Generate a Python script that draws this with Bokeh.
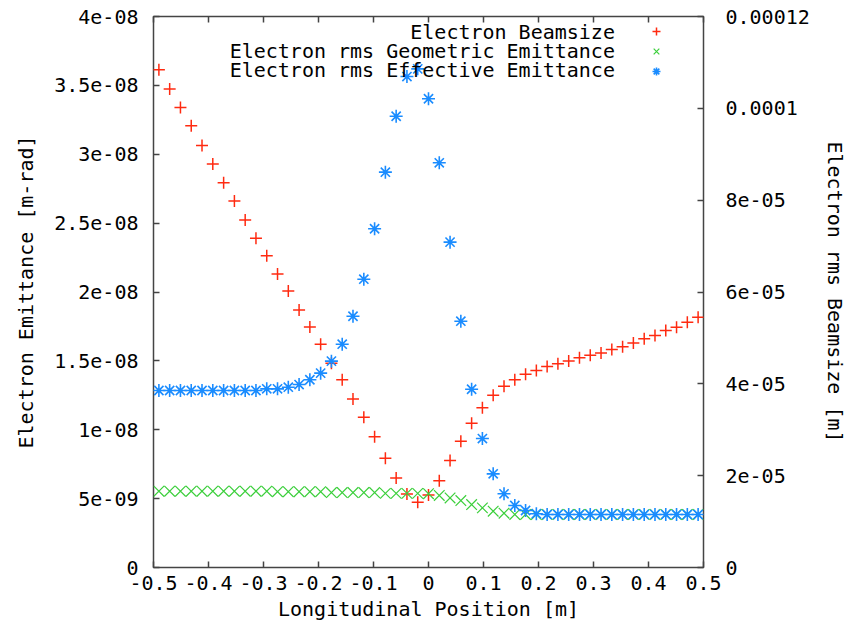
import math
from bokeh.plotting import figure
from bokeh.models import (Range1d, LinearAxis, FixedTicker, CustomJSTickFormatter,
                          Legend, LegendItem, Label)
from bokeh.embed import file_html
from bokeh.resources import INLINE

# ---------------- data ----------------
position = [-0.4902, -0.4706, -0.4510, -0.4314, -0.4118, -0.3922, -0.3725, -0.3529,
            -0.3333, -0.3137, -0.2941, -0.2745, -0.2549, -0.2353, -0.2157, -0.1961,
            -0.1765, -0.1569, -0.1373, -0.1176, -0.0980, -0.0784, -0.0588, -0.0392,
            -0.0196, 0.0, 0.0196, 0.0392, 0.0588, 0.0784, 0.0980, 0.1176, 0.1373,
            0.1569, 0.1765, 0.1961, 0.2157, 0.2353, 0.2549, 0.2745, 0.2941, 0.3137,
            0.3333, 0.3529, 0.3725, 0.3922, 0.4118, 0.4314, 0.4510, 0.4706, 0.4902]

beamsize = [1.084e-4, 1.042e-4, 1.002e-4, 9.62e-5, 9.19e-5, 8.79e-5, 8.38e-5, 7.98e-5,
            7.57e-5, 7.17e-5, 6.79e-5, 6.39e-5, 6.02e-5, 5.61e-5, 5.24e-5, 4.86e-5,
            4.45e-5, 4.09e-5, 3.67e-5, 3.27e-5, 2.85e-5, 2.38e-5, 1.95e-5, 1.60e-5,
            1.42e-5, 1.58e-5, 1.89e-5, 2.33e-5, 2.75e-5, 3.14e-5, 3.48e-5, 3.75e-5,
            3.95e-5, 4.09e-5, 4.21e-5, 4.29e-5, 4.38e-5, 4.44e-5, 4.50e-5, 4.57e-5,
            4.62e-5, 4.67e-5, 4.75e-5, 4.81e-5, 4.89e-5, 4.98e-5, 5.05e-5, 5.16e-5,
            5.23e-5, 5.34e-5, 5.45e-5]

geometric_emittance = [5.54e-9, 5.54e-9, 5.54e-9, 5.54e-9, 5.54e-9, 5.54e-9, 5.54e-9,
                       5.54e-9, 5.54e-9, 5.54e-9, 5.54e-9, 5.50e-9, 5.50e-9, 5.50e-9,
                       5.50e-9, 5.50e-9, 5.44e-9, 5.44e-9, 5.44e-9, 5.44e-9, 5.44e-9,
                       5.38e-9, 5.38e-9, 5.38e-9, 5.38e-9, 5.36e-9, 5.23e-9, 5.05e-9,
                       4.86e-9, 4.57e-9, 4.33e-9, 4.09e-9, 3.94e-9, 3.85e-9, 3.85e-9,
                       3.85e-9, 3.85e-9, 3.85e-9, 3.85e-9, 3.85e-9, 3.85e-9, 3.85e-9,
                       3.85e-9, 3.85e-9, 3.85e-9, 3.85e-9, 3.85e-9, 3.85e-9, 3.85e-9,
                       3.85e-9, 3.85e-9]

effective_emittance = [1.285e-8, 1.285e-8, 1.285e-8, 1.285e-8, 1.285e-8, 1.285e-8,
                       1.285e-8, 1.285e-8, 1.285e-8, 1.285e-8, 1.297e-8, 1.297e-8,
                       1.309e-8, 1.328e-8, 1.363e-8, 1.411e-8, 1.498e-8, 1.621e-8,
                       1.824e-8, 2.093e-8, 2.459e-8, 2.870e-8, 3.276e-8, 3.564e-8,
                       3.620e-8, 3.403e-8, 2.938e-8, 2.362e-8, 1.788e-8, 1.294e-8,
                       9.36e-9, 6.80e-9, 5.35e-9, 4.50e-9, 4.14e-9, 3.90e-9, 3.85e-9,
                       3.85e-9, 3.85e-9, 3.85e-9, 3.85e-9, 3.85e-9, 3.85e-9, 3.85e-9,
                       3.85e-9, 3.85e-9, 3.85e-9, 3.85e-9, 3.85e-9, 3.85e-9, 3.85e-9]

x_ticks = [-0.5, -0.4, -0.3, -0.2, -0.1, 0.0, 0.1, 0.2, 0.3, 0.4, 0.5]
x_tick_labels = ["-0.5", "-0.4", "-0.3", "-0.2", "-0.1", "0", "0.1", "0.2", "0.3", "0.4", "0.5"]
left_ticks = [0.0, 5e-9, 1e-8, 1.5e-8, 2e-8, 2.5e-8, 3e-8, 3.5e-8, 4e-8]
left_tick_labels = ["0", "5e-09", "1e-08", "1.5e-08", "2e-08", "2.5e-08", "3e-08", "3.5e-08", "4e-08"]
right_ticks = [0.0, 2e-5, 4e-5, 6e-5, 8e-5, 1e-4, 1.2e-4]
right_tick_labels = ["0", "2e-05", "4e-05", "6e-05", "8e-05", "0.0001", "0.00012"]

x_title = "Longitudinal Position [m]"
left_title = "Electron Emittance [m-rad]"
right_title = "Electron rms Beamsize [m]"
series_names = ["Electron Beamsize", "Electron rms Geometric Emittance",
                "Electron rms Effective Emittance"]
series_colors = ["#ff2a10", "#3ccf3c", "#1a8cff"]

FONT = "DejaVu Sans Mono"
FS = "20px"
FRAME = "#444444"

# ---------------- figure ----------------
p = figure(width=849, height=626, output_backend="svg", toolbar_location=None,
           x_range=Range1d(-0.5, 0.5), y_range=Range1d(0, 4e-8),
           min_border_left=153, min_border_right=146, min_border_top=16,
           min_border_bottom=59, x_axis_location=None, y_axis_location=None)
p.extra_y_ranges = {"beam": Range1d(0, 1.2e-4)}
p.grid.visible = False
p.outline_line_color = FRAME
p.outline_line_width = 1.5
p.background_fill_color = "white"
p.border_fill_color = "white"


def fmt(tvals, tlabels):
    return CustomJSTickFormatter(args=dict(tvals=tvals, tlabels=tlabels), code="""
        const span = Math.abs(tvals[tvals.length-1] - tvals[0]);
        for (let i = 0; i < tvals.length; i++) {
            if (Math.abs(tick - tvals[i]) < 1e-6 * span) { return tlabels[i]; }
        }
        return "";
    """)


def style(ax):
    ax.axis_line_color = None
    ax.major_tick_line_color = FRAME
    ax.major_tick_line_width = 1.5
    ax.major_tick_in = 6
    ax.major_tick_out = 0
    ax.minor_tick_line_color = None
    ax.major_label_text_font = FONT
    ax.major_label_text_font_size = FS
    ax.major_label_text_color = "black"
    ax.axis_label_text_font = FONT
    ax.axis_label_text_font_size = FS
    ax.axis_label_text_font_style = "normal"
    ax.axis_label_text_color = "black"


xb = LinearAxis(ticker=FixedTicker(ticks=x_ticks), formatter=fmt(x_ticks, x_tick_labels),
                axis_label=x_title)
style(xb)
xb.major_label_standoff = 8
xb.axis_label_standoff = 4
p.add_layout(xb, "below")

# mirrored ticks on the top border, no labels
xt = LinearAxis(ticker=FixedTicker(ticks=x_ticks),
                formatter=CustomJSTickFormatter(code="return '';"))
style(xt)
xt.major_label_standoff = 0
p.add_layout(xt, "above")

yl = LinearAxis(ticker=FixedTicker(ticks=left_ticks), formatter=fmt(left_ticks, left_tick_labels),
                axis_label=left_title)
style(yl)
yl.major_label_standoff = 15
yl.axis_label_standoff = 13
p.add_layout(yl, "left")

yr = LinearAxis(y_range_name="beam", ticker=FixedTicker(ticks=right_ticks),
                formatter=fmt(right_ticks, right_tick_labels), axis_label=right_title)
style(yr)
yr.major_label_standoff = 22
yr.axis_label_standoff = 10
yr.axis_label_orientation = "vertical"
p.add_layout(yr, "right")

# ---------------- series ----------------
r_beam = p.scatter(position, beamsize, y_range_name="beam", marker="cross", size=12,
                   line_color=series_colors[0], line_width=1.5)
r_geo = p.scatter(position, geometric_emittance, marker="x", size=15,
                  line_color=series_colors[1], line_width=1.2)
r_eff = p.scatter(position, effective_emittance, marker="asterisk", size=13,
                  line_color=series_colors[2], line_width=1.6)

# legend markers (glyph on the right of the text, as in gnuplot)
legend = Legend(items=[LegendItem(label="", renderers=[r]) for r in (r_beam, r_geo, r_eff)],
                location=(492, 486), glyph_width=22, glyph_height=20, label_width=0,
                label_standoff=0, padding=0, spacing=0, margin=0,
                background_fill_alpha=0, border_line_alpha=0,
                label_text_font=FONT, label_text_font_size=FS)
p.add_layout(legend)

legend_y = [3.891e-8, 3.753e-8, 3.608e-8]
for name, yy in zip(series_names, legend_y):
    p.add_layout(Label(x=0.339, y=yy, text=name, text_align="right", text_baseline="middle",
                       text_font=FONT, text_font_size=FS, text_color="black"))

open("out.html", "w").write(file_html(p, INLINE))
